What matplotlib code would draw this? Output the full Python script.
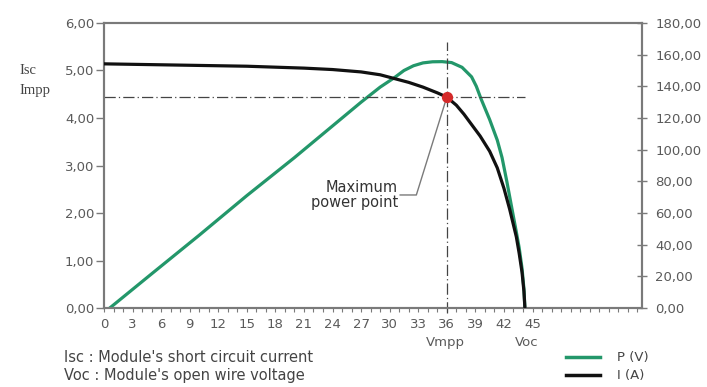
import numpy as np
import matplotlib
matplotlib.use("Agg")
import matplotlib.pyplot as plt
from matplotlib.ticker import MultipleLocator, FuncFormatter

# I-V curve (left axis, A)
volt_i = [0, 3, 6, 9, 12, 15, 18, 21, 24, 27, 29, 30.5, 32, 33.5, 35, 36, 37, 37.8,
          38.5, 39.5, 40.5, 41.3, 42.0, 42.6, 43.3, 43.6, 43.9, 44.1, 44.2]
current = [5.14, 5.13, 5.12, 5.11, 5.10, 5.09, 5.07, 5.05, 5.02, 4.97, 4.91, 4.83, 4.75, 4.65,
           4.53, 4.44, 4.27, 4.08, 3.89, 3.62, 3.30, 2.95, 2.52, 2.08, 1.50, 1.15, 0.75, 0.35, 0.0]

# P-V curve (right axis, W)
volt_p = [0.6, 5, 10, 15, 20, 25, 27, 29, 30.5, 31.5, 32.5, 33.5, 34.5, 35.5, 36.5, 37.6,
          38.6, 39.1, 39.6, 40.5, 41.3, 41.8, 42.3, 42.8, 43.3, 43.6, 43.9, 44.1, 44.2]
power = [0, 21.6, 46, 71, 95, 120, 130, 139.5, 145.5, 150, 153, 154.8, 155.5, 155.6, 155,
         152, 146, 140, 132, 119, 106, 95, 80, 64, 48, 38, 25, 12, 0]

v_mpp = 36
i_mpp = 4.44
v_oc = 44.2

left_ticks = [0, 1, 2, 3, 4, 5, 6]
right_ticks = [0, 20, 40, 60, 80, 100, 120, 140, 160, 180]
x_ticks = list(range(0, 46, 3))

green = "#23976a"
grey = "#7a7a7a"
txt = "#5a5a5a"

fig = plt.figure(figsize=(7.07, 3.87), dpi=100)
ax = fig.add_axes([0.1471, 0.204, 0.7610, 0.7366])
ax2 = ax.twinx()

comma = FuncFormatter(lambda v, p: ("%.2f" % v).replace(".", ","))

ax.set_xlim(0, 56.5)
ax.set_ylim(0, 6)
ax2.set_ylim(0, 180)

ax.set_yticks(left_ticks)
ax.yaxis.set_major_formatter(comma)
ax2.set_yticks(right_ticks)
ax2.yaxis.set_major_formatter(comma)
ax.set_xticks(x_ticks)
ax.xaxis.set_minor_locator(MultipleLocator(1))

for a in (ax, ax2):
    for s in a.spines.values():
        s.set_color(grey)
        s.set_linewidth(1.5)

ax.tick_params(axis="y", direction="out", length=6, width=1, color=grey,
               labelsize=9.5, labelcolor=txt, pad=1)
ax.tick_params(axis="x", which="both", direction="out", length=3, width=0.8, color=grey,
               labelsize=9.5, labelcolor=txt, pad=4)
ax2.tick_params(axis="y", direction="inout", length=7, width=1, color=grey,
                labelsize=9.5, labelcolor=txt, pad=6)

# curves
ax2.plot(volt_p, power, color=green, lw=2.3, zorder=3)
ax.plot(volt_i, current, color="#111111", lw=2.3, zorder=4)
ax.set_zorder(ax2.get_zorder() + 1)
ax.patch.set_visible(False)

# guide lines
ax.plot([0, v_oc], [i_mpp, i_mpp], color="#444444", lw=0.9, ls=(0, (9, 2.5, 1, 2.5)), zorder=2)
ax.plot([v_mpp, v_mpp], [-0.1, 5.6], color="#444444", lw=0.9, ls=(0, (9, 2.5, 1, 2.5)),
        zorder=2, clip_on=False)
ax.scatter([v_mpp], [i_mpp], s=50, color="#d42a2a", zorder=6)

# annotation
ax.plot([31.1, 32.8, v_mpp], [2.38, 2.38, i_mpp], color=grey, lw=1, zorder=5)
ax.text(30.9, 2.38, "Maximum\npower point", ha="right", va="center", fontsize=10.5,
        color="#333333", linespacing=1.05, multialignment="right")

# axis side labels
fig.text(0.028, 0.818, "Isc", fontsize=10.5, family="Liberation Serif", color="#444444", va="center")
fig.text(0.028, 0.766, "Impp", fontsize=10.5, family="Liberation Serif", color="#444444", va="center")
ax.text(v_mpp - 0.2, -0.72, "Vmpp", ha="center", va="center", fontsize=9.5, color=txt)
ax.text(44.4, -0.72, "Voc", ha="center", va="center", fontsize=9.5, color=txt)

# notes
fig.text(0.09, 0.077, "Isc : Module's short circuit current", fontsize=10.5, color="#444444", va="center")
fig.text(0.09, 0.03, "Voc : Module's open wire voltage", fontsize=10.5, color="#444444", va="center")

# legend
fig.add_artist(plt.Line2D([0.80, 0.848], [0.077, 0.077], color=green, lw=2.5))
fig.add_artist(plt.Line2D([0.80, 0.848], [0.03, 0.03], color="#111111", lw=2.5))
fig.text(0.872, 0.077, "P (V)", fontsize=9.5, color="#444444", va="center")
fig.text(0.872, 0.03, "I (A)", fontsize=9.5, color="#444444", va="center")

fig.savefig("out.png", dpi=100)
